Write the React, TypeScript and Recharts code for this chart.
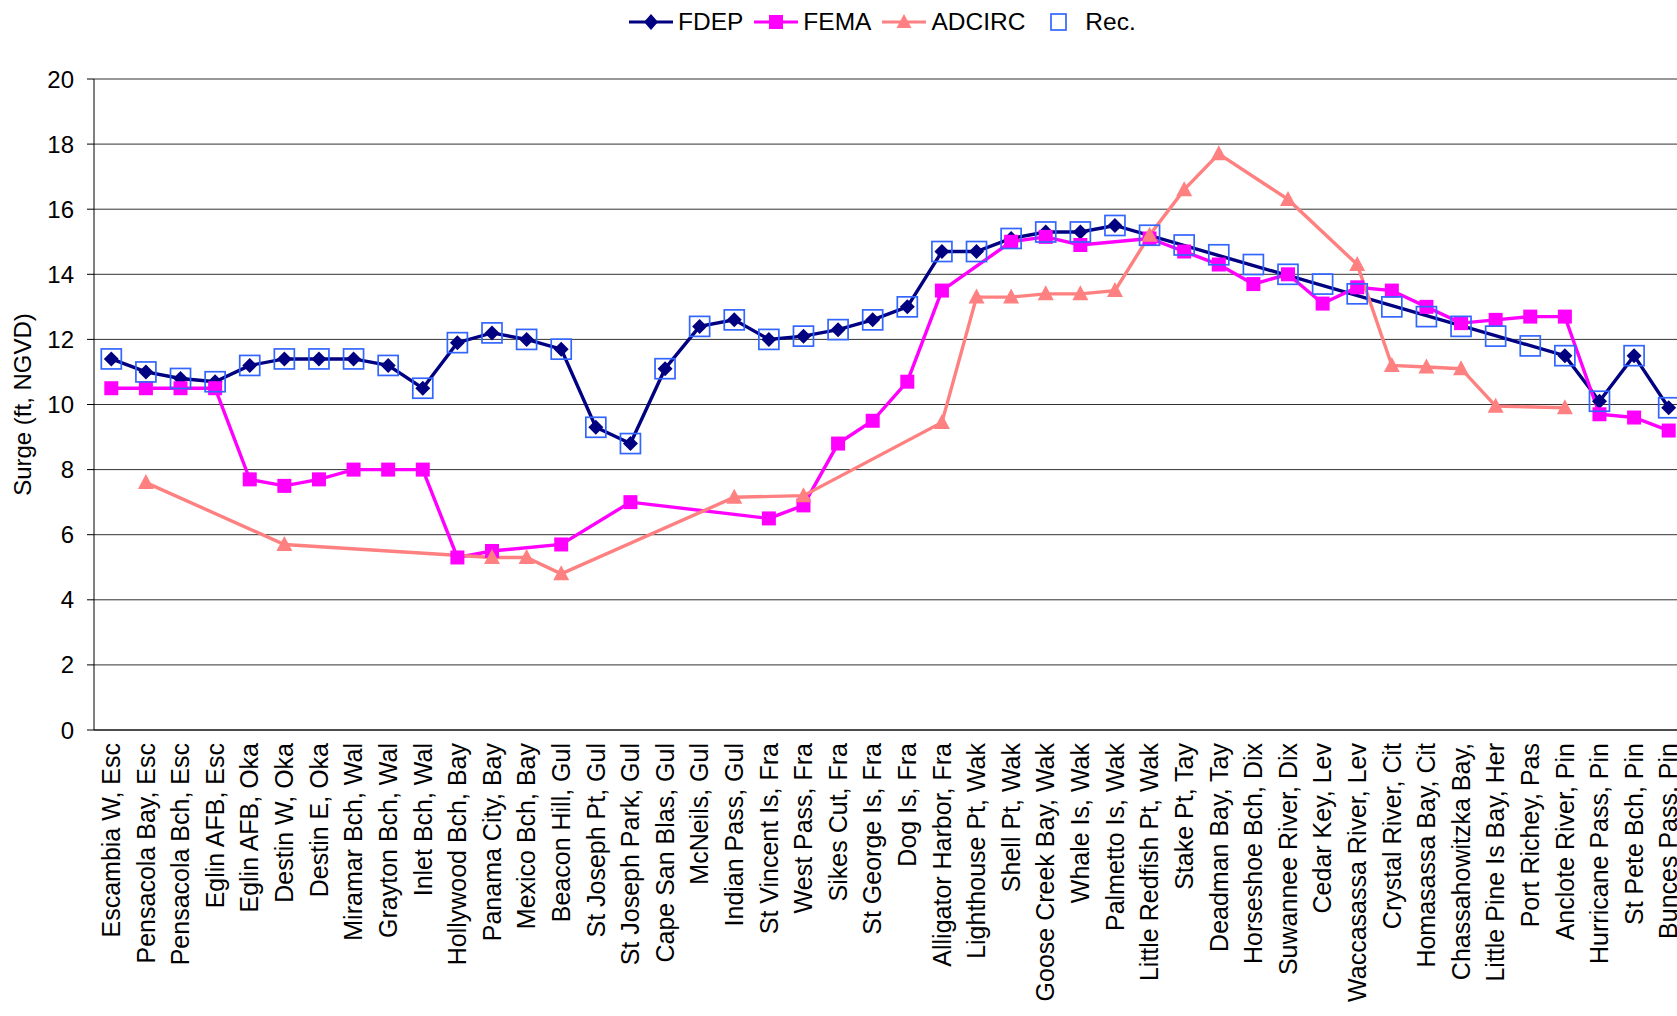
import { LineChart, Line, XAxis, YAxis, CartesianGrid } from "recharts";

const locations = [
  "Escambia W, Esc", "Pensacola Bay, Esc", "Pensacola Bch, Esc", "Eglin AFB, Esc",
  "Eglin AFB, Oka", "Destin W, Oka", "Destin E, Oka", "Miramar Bch, Wal",
  "Grayton Bch, Wal", "Inlet Bch, Wal", "Hollywood Bch, Bay", "Panama City, Bay",
  "Mexico Bch, Bay", "Beacon Hill, Gul", "St Joseph Pt, Gul", "St Joseph Park, Gul",
  "Cape San Blas, Gul", "McNeils, Gul", "Indian Pass, Gul", "St Vincent Is, Fra",
  "West Pass, Fra", "Sikes Cut, Fra", "St George Is, Fra", "Dog Is, Fra",
  "Alligator Harbor, Fra", "Lighthouse Pt, Wak", "Shell Pt, Wak", "Goose Creek Bay, Wak",
  "Whale Is, Wak", "Palmetto Is, Wak", "Little Redfish Pt, Wak", "Stake Pt, Tay",
  "Deadman Bay, Tay", "Horseshoe Bch, Dix", "Suwannee River, Dix", "Cedar Key, Lev",
  "Waccasassa River, Lev", "Crystal River, Cit", "Homasassa Bay, Cit", "Chassahowitzka Bay,",
  "Little Pine Is Bay, Her", "Port Richey, Pas", "Anclote River, Pin", "Hurricane Pass, Pin",
  "St Pete Bch, Pin", "Bunces Pass, Pin",
];

const fdep = [
  11.4, 11.0, 10.8, 10.7, 11.2, 11.4, 11.4, 11.4, 11.2, 10.5,
  11.9, 12.2, 12.0, 11.7, 9.3, 8.8, 11.1, 12.4, 12.6, 12.0,
  12.1, 12.3, 12.6, 13.0, 14.7, 14.7, 15.1, 15.3, 15.3, 15.5,
  null, null, null, null, null, null, null, null, null, null,
  null, null, 11.5, 10.1, 11.5, 9.9,
];

const fema = [
  10.5, 10.5, 10.5, 10.5, 7.7, 7.5, 7.7, 8.0, 8.0, 8.0,
  5.3, 5.5, null, 5.7, null, 7.0, null, null, null, 6.5,
  6.9, 8.8, 9.5, 10.7, 13.5, null, 15.0, 15.15, 14.9, null,
  15.1, 14.7, 14.3, 13.7, 14.0, 13.1, 13.6, 13.5, 13.0, 12.5,
  12.6, 12.7, 12.7, 9.7, 9.6, 9.2,
];

const adcirc = [
  null, 7.6, null, null, null, 5.7, null, null, null, null,
  null, 5.3, 5.3, 4.8, null, null, null, null, 7.15, null,
  7.2, null, null, null, 9.45, 13.3, 13.3, 13.4, 13.4, 13.5,
  15.2, 16.6, 17.7, null, 16.3, null, 14.3, 11.2, 11.15, 11.1,
  9.95, null, 9.9, null, null, null,
];

const rec = [
  11.4, 11.0, 10.8, 10.7, 11.2, 11.4, 11.4, 11.4, 11.2, 10.5,
  11.9, 12.2, 12.0, 11.7, 9.3, 8.8, 11.1, 12.4, 12.6, 12.0,
  12.1, 12.3, 12.6, 13.0, 14.7, 14.7, 15.1, 15.3, 15.3, 15.5,
  15.2, 14.9, 14.6, 14.3, 14.0, 13.7, 13.4, 13.0, 12.7, 12.4,
  12.1, 11.8, 11.5, 10.1, 11.5, 9.9,
];

const yTicks = [0, 2, 4, 6, 8, 10, 12, 14, 16, 18, 20];
const edgeTicks = [...locations.map((_, i) => i), locations.length];

const data = locations.map((name, i) => ({
  name,
  fdep: fdep[i],
  fema: fema[i],
  adcirc: adcirc[i],
  rec: rec[i],
}));

const FONT = "Arial, 'Liberation Sans', sans-serif";
const NAVY = "#000080";
const MAGENTA = "#FF00FF";
const SALMON = "#FF8080";
const BLUE = "#3366FF";

function isEmpty(p: any, key: string) {
  return p.cx == null || p.cy == null || p.payload?.[key] == null;
}

const diamond = (p: any) =>
  isEmpty(p, "fdep") ? <g key={p.key} /> : (
    <path key={p.key} d={`M${p.cx},${p.cy - 7.5}L${p.cx + 7.5},${p.cy}L${p.cx},${p.cy + 7.5}L${p.cx - 7.5},${p.cy}Z`} fill={NAVY} />
  );

const square = (p: any) =>
  isEmpty(p, "fema") ? <g key={p.key} /> : (
    <rect key={p.key} x={p.cx - 7} y={p.cy - 7} width={14} height={14} fill={MAGENTA} />
  );

const triangle = (p: any) =>
  isEmpty(p, "adcirc") ? <g key={p.key} /> : (
    <path key={p.key} d={`M${p.cx},${p.cy - 8.5}L${p.cx + 8},${p.cy + 6.5}L${p.cx - 8},${p.cy + 6.5}Z`} fill={SALMON} />
  );

const recBox = (p: any) =>
  isEmpty(p, "rec") ? <g key={p.key} /> : (
    <rect key={p.key} x={p.cx - 10} y={p.cy - 10} width={20} height={20} fill="none" stroke={BLUE} strokeWidth={1.7} />
  );

function CategoryTick({ x, y, payload }: any) {
  return (
    <text
      transform={`translate(${x},${y}) rotate(-90)`}
      dy="0.35em"
      textAnchor="end"
      fontSize={25}
      fontFamily={FONT}
      fill="#000"
    >
      {payload.value}
    </text>
  );
}

function LegendIcon({ kind, color }: { kind: string; color: string }) {
  return (
    <svg width={44} height={24} style={{ display: "block" }}>
      {kind !== "rec" && <line x1={0} y1={12} x2={44} y2={12} stroke={color} strokeWidth={3.2} />}
      {kind === "diamond" && <path d="M22,4L29,12L22,20L15,12Z" fill={color} />}
      {kind === "square" && <rect x={15} y={5} width={14} height={14} fill={color} />}
      {kind === "triangle" && <path d="M22,4L29.5,18L14.5,18Z" fill={color} />}
      {kind === "rec" && <rect x={15} y={4} width={15} height={16} fill="none" stroke={color} strokeWidth={1.7} />}
    </svg>
  );
}

const legendItems = [
  { label: "FDEP", kind: "diamond", color: NAVY },
  { label: "FEMA", kind: "square", color: MAGENTA },
  { label: "ADCIRC", kind: "triangle", color: SALMON },
  { label: "Rec.", kind: "rec", color: BLUE },
];

export default function App() {
  return (
    <div
      style={{
        position: "absolute",
        left: 0,
        top: 0,
        width: 1677,
        height: 1016,
        overflow: "hidden",
        background: "#fff",
        fontFamily: FONT,
      }}
    >
      <div
        style={{
          position: "absolute",
          left: 629,
          top: 10,
          height: 24,
          display: "flex",
          alignItems: "center",
          gap: 11,
          fontSize: 24.5,
          lineHeight: "24px",
        }}
      >
        {legendItems.map((it) => (
          <div key={it.label} style={{ display: "flex", alignItems: "center", gap: 5 }}>
            <LegendIcon kind={it.kind} color={it.color} />
            <span>{it.label}</span>
          </div>
        ))}
      </div>
      <LineChart width={1686} height={1016} data={data} margin={{ top: 79, right: 0, bottom: 0, left: 0 }}>
        <CartesianGrid vertical={false} stroke="#333" />
        <XAxis
          xAxisId="edge"
          type="number"
          domain={[0, locations.length]}
          ticks={edgeTicks}
          tick={false}
          tickSize={7}
          tickLine={{ stroke: "#666" }}
          axisLine={false}
          height={0}
        />
        <XAxis
          dataKey="name"
          scale="band"
          interval={0}
          height={286}
          tickLine={false}
          tickSize={0}
          tickMargin={13}
          tick={<CategoryTick />}
          axisLine={{ stroke: "#000" }}
        />
        <YAxis
          domain={[0, 20]}
          ticks={yTicks}
          width={94}
          tickSize={7}
          tickMargin={13}
          tickLine={{ stroke: "#000" }}
          axisLine={{ stroke: "#000" }}
          tick={{ fontSize: 24, fill: "#000", fontFamily: FONT }}
          label={{
            value: "Surge (ft, NGVD)",
            angle: -90,
            position: "insideLeft",
            offset: 22,
            style: { textAnchor: "middle", fontSize: 24, fill: "#000", fontFamily: FONT },
          }}
        />
        <Line dataKey="fdep" stroke={NAVY} strokeWidth={3.4} dot={diamond} connectNulls isAnimationActive={false} />
        <Line dataKey="fema" stroke={MAGENTA} strokeWidth={3.4} dot={square} connectNulls isAnimationActive={false} />
        <Line dataKey="adcirc" stroke={SALMON} strokeWidth={3.4} dot={triangle} connectNulls isAnimationActive={false} />
        <Line dataKey="rec" stroke="none" strokeWidth={0} dot={recBox} activeDot={false} isAnimationActive={false} />
      </LineChart>
    </div>
  );
}
